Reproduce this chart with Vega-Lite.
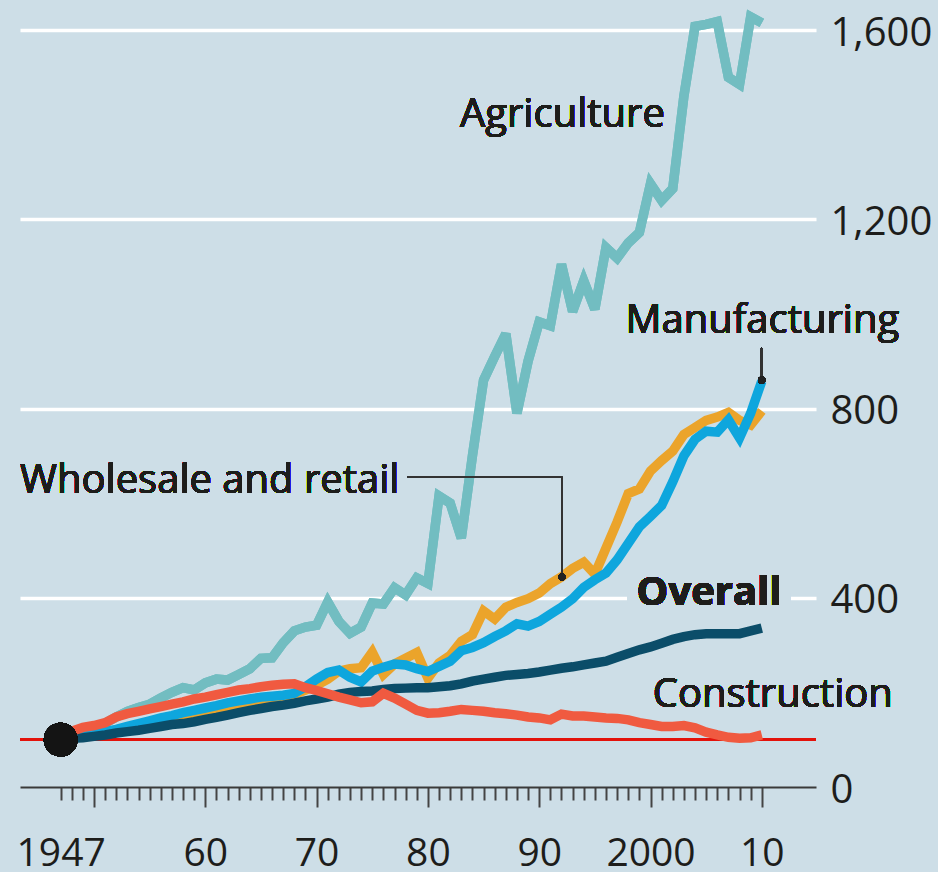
{
  "$schema": "https://vega.github.io/schema/vega-lite/v6.json",
  "width": 796,
  "height": 787,
  "autosize": {"type": "none"},
  "padding": {"left": 20, "top": 0, "right": 122, "bottom": 85},
  "background": "#cddee7",
  "config": {"view": {"stroke": null}, "font": "Open Sans", "text": {"font": "Open Sans"}},
  "data": {
    "values": [
      {"year": 1947, "agriculture": 100, "manufacturing": 100, "wholesale": 100, "overall": 100, "construction": 100},
      {"year": 1948, "agriculture": 108, "manufacturing": 104, "wholesale": 104, "overall": 103, "construction": 118},
      {"year": 1949, "agriculture": 113, "manufacturing": 106, "wholesale": 106, "overall": 104, "construction": 126},
      {"year": 1950, "agriculture": 122, "manufacturing": 112, "wholesale": 110, "overall": 107, "construction": 130},
      {"year": 1951, "agriculture": 135, "manufacturing": 117, "wholesale": 115, "overall": 110, "construction": 136},
      {"year": 1952, "agriculture": 148, "manufacturing": 122, "wholesale": 120, "overall": 114, "construction": 148},
      {"year": 1953, "agriculture": 160, "manufacturing": 128, "wholesale": 125, "overall": 117, "construction": 155},
      {"year": 1954, "agriculture": 168, "manufacturing": 134, "wholesale": 130, "overall": 120, "construction": 160},
      {"year": 1955, "agriculture": 175, "manufacturing": 140, "wholesale": 135, "overall": 124, "construction": 165},
      {"year": 1956, "agriculture": 188, "manufacturing": 146, "wholesale": 140, "overall": 128, "construction": 170},
      {"year": 1957, "agriculture": 200, "manufacturing": 151, "wholesale": 146, "overall": 132, "construction": 175},
      {"year": 1958, "agriculture": 210, "manufacturing": 157, "wholesale": 150, "overall": 134, "construction": 180},
      {"year": 1959, "agriculture": 205, "manufacturing": 162, "wholesale": 155, "overall": 138, "construction": 186},
      {"year": 1960, "agriculture": 220, "manufacturing": 167, "wholesale": 160, "overall": 143, "construction": 190},
      {"year": 1961, "agriculture": 228, "manufacturing": 172, "wholesale": 165, "overall": 147, "construction": 195},
      {"year": 1962, "agriculture": 226, "manufacturing": 178, "wholesale": 170, "overall": 152, "construction": 200},
      {"year": 1963, "agriculture": 238, "manufacturing": 182, "wholesale": 175, "overall": 157, "construction": 205},
      {"year": 1964, "agriculture": 250, "manufacturing": 186, "wholesale": 180, "overall": 162, "construction": 208},
      {"year": 1965, "agriculture": 272, "manufacturing": 190, "wholesale": 185, "overall": 166, "construction": 212},
      {"year": 1966, "agriculture": 273, "manufacturing": 192, "wholesale": 188, "overall": 170, "construction": 215},
      {"year": 1967, "agriculture": 305, "manufacturing": 194, "wholesale": 192, "overall": 173, "construction": 217},
      {"year": 1968, "agriculture": 330, "manufacturing": 198, "wholesale": 196, "overall": 177, "construction": 218},
      {"year": 1969, "agriculture": 338, "manufacturing": 212, "wholesale": 205, "overall": 182, "construction": 210},
      {"year": 1970, "agriculture": 342, "manufacturing": 228, "wholesale": 215, "overall": 186, "construction": 204},
      {"year": 1971, "agriculture": 391, "manufacturing": 242, "wholesale": 228, "overall": 190, "construction": 197},
      {"year": 1972, "agriculture": 350, "manufacturing": 247, "wholesale": 245, "overall": 196, "construction": 190},
      {"year": 1973, "agriculture": 325, "manufacturing": 232, "wholesale": 250, "overall": 200, "construction": 184},
      {"year": 1974, "agriculture": 338, "manufacturing": 222, "wholesale": 252, "overall": 202, "construction": 178},
      {"year": 1975, "agriculture": 389, "manufacturing": 245, "wholesale": 285, "overall": 203, "construction": 180},
      {"year": 1976, "agriculture": 387, "manufacturing": 253, "wholesale": 238, "overall": 206, "construction": 198},
      {"year": 1977, "agriculture": 421, "manufacturing": 260, "wholesale": 260, "overall": 208, "construction": 188},
      {"year": 1978, "agriculture": 406, "manufacturing": 258, "wholesale": 272, "overall": 209, "construction": 175},
      {"year": 1979, "agriculture": 442, "manufacturing": 250, "wholesale": 284, "overall": 210, "construction": 162},
      {"year": 1980, "agriculture": 430, "manufacturing": 244, "wholesale": 230, "overall": 210, "construction": 156},
      {"year": 1981, "agriculture": 615, "manufacturing": 255, "wholesale": 262, "overall": 212, "construction": 157},
      {"year": 1982, "agriculture": 600, "manufacturing": 266, "wholesale": 278, "overall": 214, "construction": 160},
      {"year": 1983, "agriculture": 526, "manufacturing": 288, "wholesale": 308, "overall": 218, "construction": 164},
      {"year": 1984, "agriculture": 700, "manufacturing": 295, "wholesale": 322, "overall": 224, "construction": 162},
      {"year": 1985, "agriculture": 860, "manufacturing": 305, "wholesale": 372, "overall": 228, "construction": 160},
      {"year": 1986, "agriculture": 910, "manufacturing": 318, "wholesale": 355, "overall": 232, "construction": 157},
      {"year": 1987, "agriculture": 958, "manufacturing": 330, "wholesale": 380, "overall": 236, "construction": 155},
      {"year": 1988, "agriculture": 790, "manufacturing": 345, "wholesale": 390, "overall": 238, "construction": 152},
      {"year": 1989, "agriculture": 900, "manufacturing": 340, "wholesale": 398, "overall": 240, "construction": 148},
      {"year": 1990, "agriculture": 983, "manufacturing": 350, "wholesale": 410, "overall": 243, "construction": 146},
      {"year": 1991, "agriculture": 975, "manufacturing": 365, "wholesale": 430, "overall": 247, "construction": 142},
      {"year": 1992, "agriculture": 1105, "manufacturing": 380, "wholesale": 444, "overall": 251, "construction": 154},
      {"year": 1993, "agriculture": 1005, "manufacturing": 398, "wholesale": 462, "overall": 254, "construction": 150},
      {"year": 1994, "agriculture": 1070, "manufacturing": 422, "wholesale": 475, "overall": 258, "construction": 150},
      {"year": 1995, "agriculture": 1010, "manufacturing": 438, "wholesale": 450, "overall": 262, "construction": 148},
      {"year": 1996, "agriculture": 1140, "manufacturing": 452, "wholesale": 505, "overall": 266, "construction": 146},
      {"year": 1997, "agriculture": 1118, "manufacturing": 480, "wholesale": 560, "overall": 274, "construction": 145},
      {"year": 1998, "agriculture": 1150, "manufacturing": 515, "wholesale": 620, "overall": 282, "construction": 142},
      {"year": 1999, "agriculture": 1172, "manufacturing": 550, "wholesale": 630, "overall": 290, "construction": 136},
      {"year": 2000, "agriculture": 1275, "manufacturing": 572, "wholesale": 668, "overall": 296, "construction": 132},
      {"year": 2001, "agriculture": 1240, "manufacturing": 595, "wholesale": 690, "overall": 304, "construction": 128},
      {"year": 2002, "agriculture": 1265, "manufacturing": 645, "wholesale": 710, "overall": 312, "construction": 128},
      {"year": 2003, "agriculture": 1460, "manufacturing": 700, "wholesale": 745, "overall": 318, "construction": 130},
      {"year": 2004, "agriculture": 1608, "manufacturing": 735, "wholesale": 760, "overall": 322, "construction": 125},
      {"year": 2005, "agriculture": 1612, "manufacturing": 752, "wholesale": 775, "overall": 324, "construction": 116},
      {"year": 2006, "agriculture": 1618, "manufacturing": 750, "wholesale": 782, "overall": 324, "construction": 110},
      {"year": 2007, "agriculture": 1500, "manufacturing": 776, "wholesale": 792, "overall": 324, "construction": 105},
      {"year": 2008, "agriculture": 1485, "manufacturing": 738, "wholesale": 775, "overall": 324, "construction": 103},
      {"year": 2009, "agriculture": 1628, "manufacturing": 790, "wholesale": 765, "overall": 330, "construction": 104},
      {"year": 2010, "agriculture": 1615, "manufacturing": 858, "wholesale": 795, "overall": 336, "construction": 110}
    ]
  },
  "layer": [
    {
      "mark": {"type": "line", "color": "#72bdc1", "strokeWidth": 9.5, "strokeJoin": "miter", "strokeMiterLimit": 3},
      "encoding": {
        "x": {
          "field": "year", "type": "quantitative",
          "scale": {"domain": [1943.35, 2014.87], "nice": false, "zero": false},
          "axis": {
            "title": null, "grid": false, "orient": "bottom", "tickCount": 200,
            "values": [1947,1948,1949,1950,1951,1952,1953,1954,1955,1956,1957,1958,1959,1960,1961,1962,1963,1964,1965,1966,1967,1968,1969,1970,1971,1972,1973,1974,1975,1976,1977,1978,1979,1980,1981,1982,1983,1984,1985,1986,1987,1988,1989,1990,1991,1992,1993,1994,1995,1996,1997,1998,1999,2000,2001,2002,2003,2004,2005,2006,2007,2008,2009,2010],
            "domainColor": "#3a3a3a", "domainWidth": 2,
            "tickColor": "#444444", "tickWidth": 2,
            "tickSize": {"condition": {"test": "datum.value % 10 === 0", "value": 20}, "value": 13},
            "labelExpr": "datum.value == 1947 ? '1947' : datum.value == 2000 ? '2000' : (datum.value % 10 == 0 && datum.value >= 1960) ? substring(toString(datum.value), 2, 4) : ''",
            "labelFont": "Open Sans", "labelFontSize": 39, "labelColor": "#1d1d1b",
            "labelBaseline": "alphabetic",
            "labelPadding": {"condition": {"test": "datum.value % 10 === 0", "value": 58}, "value": 65},
            "labelOverlap": false, "labelBound": false, "labelFlush": false
          }
        },
        "y": {
          "field": "agriculture", "type": "quantitative",
          "scale": {"domain": [0, 1663.5], "nice": false, "zero": false},
          "axis": {
            "title": null, "orient": "right", "values": [0, 400, 800, 1200, 1600], "tickCount": 10,
            "labelExpr": "format(datum.value, ',')",
            "domain": false, "ticks": false, "tickSize": 0,
            "grid": true, "gridColor": "#ffffff", "gridWidth": 3.5,
            "gridOpacity": {"condition": {"test": "datum.value === 0", "value": 0}, "value": 1},
            "labelFont": "Open Sans", "labelFontSize": 40, "labelColor": "#1d1d1b",
            "labelPadding": 14, "labelBaseline": "middle", "labelOffset": 3,
            "labelOverlap": false, "labelBound": false, "labelFlush": false
          }
        }
      }
    },
    {
      "mark": {"type": "rect", "color": "#cddee7"},
      "encoding": {
        "x": {"datum": 1997.9, "type": "quantitative"},
        "x2": {"datum": 2012.55},
        "y": {"datum": 390, "type": "quantitative"},
        "y2": {"datum": 410}
      }
    },
    {
      "mark": {"type": "rule", "color": "#e3120b", "strokeWidth": 2.5},
      "encoding": {"y": {"datum": 100, "type": "quantitative"}}
    },
    {
      "mark": {"type": "line", "color": "#72bdc1", "strokeWidth": 9.5, "strokeJoin": "miter", "strokeMiterLimit": 3},
      "encoding": {
        "x": {"field": "year", "type": "quantitative"},
        "y": {"field": "agriculture", "type": "quantitative"}
      }
    },
    {
      "mark": {"type": "line", "color": "#eba42b", "strokeWidth": 9.5, "strokeJoin": "miter", "strokeMiterLimit": 3},
      "encoding": {
        "x": {"field": "year", "type": "quantitative"},
        "y": {"field": "wholesale", "type": "quantitative"}
      }
    },
    {
      "mark": {"type": "line", "color": "#0ea6dd", "strokeWidth": 9.5, "strokeJoin": "miter", "strokeMiterLimit": 3},
      "encoding": {
        "x": {"field": "year", "type": "quantitative"},
        "y": {"field": "manufacturing", "type": "quantitative"}
      }
    },
    {
      "mark": {"type": "line", "color": "#0b4d69", "strokeWidth": 9.5, "strokeJoin": "miter", "strokeMiterLimit": 3},
      "encoding": {
        "x": {"field": "year", "type": "quantitative"},
        "y": {"field": "overall", "type": "quantitative"}
      }
    },
    {
      "mark": {"type": "line", "color": "#f05a40", "strokeWidth": 9.5, "strokeJoin": "miter", "strokeMiterLimit": 3},
      "encoding": {
        "x": {"field": "year", "type": "quantitative"},
        "y": {"field": "construction", "type": "quantitative"}
      }
    },
    {
      "mark": {"type": "rule", "color": "#333333", "strokeWidth": 2},
      "encoding": {
        "x": {"datum": 1978.15, "type": "quantitative"},
        "x2": {"datum": 1992.05},
        "y": {"datum": 655.3, "type": "quantitative"}
      }
    },
    {
      "mark": {"type": "rule", "color": "#333333", "strokeWidth": 2},
      "encoding": {
        "x": {"datum": 1992.05, "type": "quantitative"},
        "y": {"datum": 655.3, "type": "quantitative"},
        "y2": {"datum": 444}
      }
    },
    {
      "mark": {"type": "rule", "color": "#333333", "strokeWidth": 2},
      "encoding": {
        "x": {"datum": 2010, "type": "quantitative"},
        "y": {"datum": 928, "type": "quantitative"},
        "y2": {"datum": 860}
      }
    },
    {
      "mark": {"type": "point", "filled": true, "color": "#222222", "opacity": 1, "size": 50},
      "encoding": {
        "x": {"datum": 1992.05, "type": "quantitative"},
        "y": {"datum": 444, "type": "quantitative"}
      }
    },
    {
      "mark": {"type": "point", "filled": true, "color": "#222222", "opacity": 1, "size": 50},
      "encoding": {
        "x": {"datum": 2010, "type": "quantitative"},
        "y": {"datum": 860, "type": "quantitative"}
      }
    },
    {
      "mark": {"type": "point", "filled": true, "color": "#141414", "opacity": 1, "size": 1134},
      "encoding": {
        "x": {"datum": 1947, "type": "quantitative"},
        "y": {"datum": 100, "type": "quantitative"}
      }
    },
    {
      "mark": {"type": "text", "font": "Open Sans", "fontSize": 40, "color": "#1d1d1b", "align": "left", "baseline": "alphabetic"},
      "encoding": {
        "x": {"datum": 1982.885, "type": "quantitative"},
        "y": {"datum": 1395.7, "type": "quantitative"},
        "text": {"value": "Agriculture"}
      }
    },
    {
      "mark": {"type": "text", "font": "Open Sans", "fontSize": 40, "color": "#1d1d1b", "align": "center", "baseline": "alphabetic"},
      "encoding": {
        "x": {"datum": 2010.05, "type": "quantitative"},
        "y": {"datum": 959.6, "type": "quantitative"},
        "text": {"value": "Manufacturing"}
      }
    },
    {
      "mark": {"type": "text", "font": "Open Sans", "fontSize": 40, "color": "#1d1d1b", "align": "left", "baseline": "alphabetic"},
      "encoding": {
        "x": {"datum": 1943.35, "type": "quantitative"},
        "y": {"datum": 621.4, "type": "quantitative"},
        "text": {"value": "Wholesale and retail"}
      }
    },
    {
      "mark": {"type": "text", "font": "Open Sans", "fontSize": 40, "fontWeight": "bold", "color": "#1d1d1b", "align": "center", "baseline": "alphabetic"},
      "encoding": {
        "x": {"datum": 2005.26, "type": "quantitative"},
        "y": {"datum": 384.7, "type": "quantitative"},
        "text": {"value": "Overall"}
      }
    },
    {
      "mark": {"type": "text", "font": "Open Sans", "fontSize": 40, "color": "#1d1d1b", "align": "left", "baseline": "alphabetic"},
      "encoding": {
        "x": {"datum": 2000.2, "type": "quantitative"},
        "y": {"datum": 169.1, "type": "quantitative"},
        "text": {"value": "Construction"}
      }
    }
  ]
}
